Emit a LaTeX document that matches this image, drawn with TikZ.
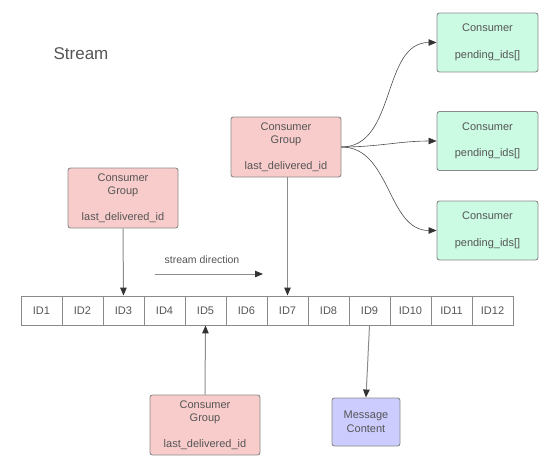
\documentclass[tikz,border=0pt]{standalone}
\usepackage{fontspec}
\setmainfont{Liberation Sans}
\usetikzlibrary{arrows.meta}
\definecolor{edge}{HTML}{8A8A8A}
\definecolor{ink}{HTML}{555555}
\definecolor{groupfill}{HTML}{F9CCCC}
\definecolor{consfill}{HTML}{CCFBE4}
\definecolor{msgfill}{HTML}{CCCCFF}
\definecolor{wire}{HTML}{8C8C8C}
\definecolor{tip}{HTML}{333333}
\begin{document}
\begin{tikzpicture}[x=1pt,y=-1pt,
  every node/.style={font=\fontsize{11}{13.5}\selectfont, text=ink},
  box/.style={draw=edge, line width=0.9pt, rounded corners=2.5pt, align=center, inner sep=0pt},
  groupbox/.style={box, fill=groupfill, minimum width=110pt, minimum height=60pt},
  consbox/.style={box, fill=consfill, minimum width=101pt, minimum height=59pt},
  msgbox/.style={box, fill=msgfill, minimum width=68pt, minimum height=48pt},
  cell/.style={draw=edge, line width=0.9pt, minimum width=41pt, minimum height=29pt, inner sep=0pt},
  link/.style={draw=wire, line width=1pt, -{Triangle[length=8pt,width=6.5pt,color=tip]}},
  flow/.style={draw=black!70, line width=0.6pt, -{Triangle[length=8pt,width=6.5pt,color=tip]}}
]
\useasboundingbox (0,0) rectangle (550,461);

\node[font=\fontsize{17}{19}\selectfont] (title) at (81,54) {Stream};

% message IDs of the stream
\foreach \i in {1,...,12} {
  \node[cell] (id\i) at ({21+41*(\i-0.5)},310.5) {ID\i};
}

% consumer groups
\node[groupbox] (gA) at (123,198) {Consumer\\Group\\[12pt]last\_delivered\_id};
\node[groupbox] (gB) at (286,147) {Consumer\\Group\\[12pt]last\_delivered\_id};
\node[groupbox] (gC) at (205,425) {Consumer\\Group\\[12pt]last\_delivered\_id};

% consumers of group B
\node[consbox] (c1) at (487.5,42.5) {Consumer\\[13pt]pending\_ids[]};
\node[consbox] (c2) at (487.5,141) {Consumer\\[13pt]pending\_ids[]};
\node[consbox] (c3) at (487.5,230.5) {Consumer\\[13pt]pending\_ids[]};

\node[msgbox] (msg) at (366,422) {Message\\Content};

% stream direction
\node[font=\fontsize{10.5}{12}\selectfont] (dirlabel) at (202,260) {stream direction};
\coordinate (dirA) at (155,274);
\coordinate (dirB) at (263,274);
\draw[link] (dirA) -- (dirB);

% group pointers into the stream
\draw[link] (gA.south) -- (id3.north);
\draw[link] (gB.south -| id7.north) -- (id7.north);
\draw[link] (gC.north) -- (id5.south);
\draw[link] (id9.south) -- (msg.north);

% delivery to consumers
\draw[flow] (gB.east) to[out=0,in=180] (c1.west);
\draw[flow] (gB.east) to[out=0,in=180] (c2.west);
\draw[flow] (gB.east) to[out=0,in=180] (c3.west);
\end{tikzpicture}
\end{document}
